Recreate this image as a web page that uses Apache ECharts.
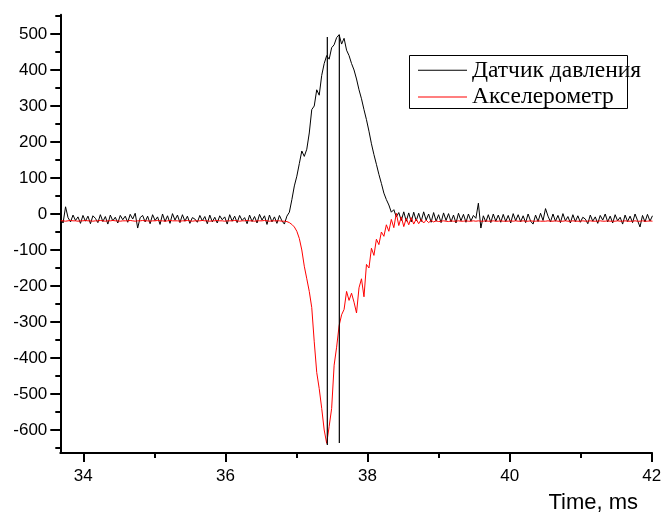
<!DOCTYPE html>
<html><head><meta charset="utf-8">
<script src="https://cdn.jsdelivr.net/npm/echarts@6/dist/echarts.min.js"></script>
<style>html,body{margin:0;padding:0;background:#fff}#c{width:665px;height:513px}</style>
</head><body><div id="c"></div>
<script>
// Sampling of the recorded signals (ms)
const sampleStart = 33.68;
const sampleStep = 0.035;

// Pressure sensor (black)
const pressure = [
 -12, -25, 20, -10, -22, -3, -18, -8, -26, -4,
 -20, -6, -27, -5, -12, -24, -2, -21, -7, -28,
 -3, -19, -9, -25, -4, -16, -6, -23, -1, -14,
 2, -39, -10, -4, -22, -6, -27, -2, -18, -8,
 -29, 0, -21, -5, -26, 1, -17, -3, -24, -2,
 -20, -6, -26, -10, -14, -23, -4, -19, -7, -27,
 -3, -22, -9, -25, -5, -16, -8, -28, -2, -20,
 -6, -24, -4, -18, -10, -27, -3, -21, -7, -25,
 -1, -17, -5, -29, -3, -22, -8, -26, -4, -19,
 -28, -6,
 5, 40, 78, 105, 140, 175, 160, 180, 225, 290,
 300, 345, 330, 385, 418, 440, 430, 462, 470, 490,
 498, 472, 488, 455, 440, 418, 400, 375, 345, 320,
 290, 262, 230, 195, 165, 138, 110, 85, 58, 40,
 25, 5, 12, -8,
 4, -18, 6, -20, 3, -22, 5, -19, 2, -21,
 6, -17, 0, -23, 4, -20, -2, -24, 3, -18,
 1, -22, -3, -25, 2, -19, -1, -23, 0, -20,
 -4, -12, 30, -39, -5, -22, -2, -24, 0, -20,
 -3, -23, -1, -21, -4, -25, 1, -19, -2, -22,
 -5, -24, 0, -20, -28, -3, -21, 2, -18, 15,
 -6, -22, 0, -20, -4, -24, 1, -19, -7, -25,
 -2, -21, -5, -23, -9, -14, -27, -3, -20, -8,
 -26, -4, -17, 0, -22, -6, -25, -2, -19, -9,
 -28, -3, -21, -6, -24, 0, -18, -36, -4, -22,
 -1, -20, -5
];

// Accelerometer (red)
const accel = [
 -19, -19, -20, -19, -18, -19, -19, -20, -19, -19,
 -18, -19, -19, -20, -19, -19, -18, -19, -20, -19,
 -19, -18, -19, -19, -20, -19, -19, -19, -18, -19,
 -20, -19, -19, -18, -19, -19, -20, -19, -19, -18,
 -19, -19, -20, -19, -18, -19, -19, -19, -20, -19,
 -19, -18, -19, -20, -19, -19, -19, -18, -19, -19,
 -20, -19, -19, -18, -19, -19, -20, -19, -19, -19,
 -18, -19, -20, -19, -19, -18, -19, -19, -20, -19,
 -19, -19, -18, -19, -20, -19, -19, -19, -19, -20,
 -20, -21, -24, -29, -36, -48, -68, -100, -145, -180,
 -215, -260, -355, -440, -485, -540, -600, -637, -590, -540,
 -420, -370, -310, -280, -265, -215, -240, -220, -245, -275,
 -205, -180, -230, -140, -150, -95, -115, -70, -85, -50,
 -62, -30, -48, -15, -38, 2, -32, -8, -35, -12,
 -30, -10, -28, -14, -27, -15, -25, -17, -24, -18,
 -22, -19,
 -21, -20, -19, -20, -21, -19, -20, -20, -19, -20,
 -20, -19, -20, -20, -19, -20, -19, -20, -20, -19,
 -20, -20, -19, -20, -20, -19, -20, -20, -20, -19,
 -20, -19, -20, -20, -19, -20, -20, -19, -20, -20,
 -19, -20, -20, -20, -19, -20, -20, -19, -20, -20,
 -20, -19, -20, -20, -19, -20, -20, -20, -19, -20,
 -20, -19, -20, -20, -20, -19, -20, -20, -19, -20,
 -20, -20, -19, -20, -20, -19, -20, -20, -20, -19,
 -20, -20, -19, -20, -20, -19, -20
];

// Vertical marker lines (time, top value, bottom value)
const markerTimes = [37.434, 37.603];
const markerTop = [492, 498];
const markerBottom = [-642, -636];

const seriesNames = ['Датчик давления', 'Акселерометр'];
const xAxisName = 'Time, ms';
const xMajorTicks = [34, 36, 38, 40, 42];
const xMinorTicks = [35, 37, 39, 41];
const yMajorTicks = [-600, -500, -400, -300, -200, -100, 0, 100, 200, 300, 400, 500];
const yMinorTicks = [-650, -550, -450, -350, -250, -150, -50, 50, 150, 250, 350, 450, 550];
const xRange = [33.676, 42.005];
const yRange = [-663.9, 553.6];

const toPairs = vals => vals.map((v, i) => [sampleStart + i * sampleStep, v]);

const black = '#000';
const axisFont = {color: black, fontFamily: 'Liberation Sans', fontSize: 17};

const chart = echarts.init(document.getElementById('c'), null, {renderer: 'canvas'});
chart.setOption({
  animation: false,
  backgroundColor: '#fff',
  grid: {left: 60.3, right: 12.9, top: 14.7, bottom: 60, containLabel: false, outerBoundsMode: 'none'},
  legend: {
    data: seriesNames,
    orient: 'vertical',
    left: 418, top: 57,
    padding: 0,
    icon: 'rect',
    itemWidth: 49, itemHeight: 1, itemGap: 0,
    textStyle: {fontFamily: 'Liberation Serif', fontSize: 23.5, color: black, lineHeight: 22.7, padding: [4, 0, 0, 0]}
  },
  graphic: [{
    type: 'rect', z: 0,
    shape: {x: 409.5, y: 55.5, width: 218, height: 53},
    style: {fill: '#fff', stroke: black, lineWidth: 1}
  }],
  xAxis: [{
    type: 'value', min: xRange[0], max: xRange[1], position: 'bottom',
    axisLine: {onZero: false, lineStyle: {color: black, width: 2}},
    axisTick: {customValues: xMajorTicks, length: 9, lineStyle: {color: black, width: 2}},
    axisLabel: Object.assign({customValues: xMajorTicks, margin: 15}, axisFont),
    splitLine: {show: false},
    name: xAxisName, nameLocation: 'end', nameGap: -14,
    nameTextStyle: {color: black, fontFamily: 'Liberation Sans', fontSize: 22, align: 'right', verticalAlign: 'top', padding: [39, 0, 0, 0]}
  }, {
    type: 'value', min: xRange[0], max: xRange[1], position: 'bottom',
    axisLine: {show: false, onZero: false},
    axisTick: {customValues: xMinorTicks, length: 5, lineStyle: {color: black, width: 2}},
    axisLabel: {show: false},
    splitLine: {show: false}
  }],
  yAxis: [{
    type: 'value', min: yRange[0], max: yRange[1], position: 'left',
    axisLine: {onZero: false, lineStyle: {color: black, width: 2}},
    axisTick: {customValues: yMajorTicks, length: 10, lineStyle: {color: black, width: 2}},
    axisLabel: Object.assign({customValues: yMajorTicks, margin: 13}, axisFont),
    splitLine: {show: false}
  }, {
    type: 'value', min: yRange[0], max: yRange[1], position: 'left',
    axisLine: {show: false, onZero: false},
    axisTick: {customValues: yMinorTicks, length: 5, lineStyle: {color: black, width: 2}},
    axisLabel: {show: false},
    splitLine: {show: false}
  }],
  series: [
    {name: seriesNames[0], type: 'line', data: toPairs(pressure), symbol: 'none', lineStyle: {color: black, width: 1}, itemStyle: {color: black}, z: 2},
    {name: seriesNames[1], type: 'line', data: toPairs(accel), symbol: 'none', lineStyle: {color: '#ff0000', width: 1}, itemStyle: {color: '#ff0000'}, z: 3}
  ].concat(markerTimes.map((t, k) => ({
    type: 'line', data: [[t, markerTop[k]], [t, markerBottom[k]]], symbol: 'none', silent: true,
    lineStyle: {color: black, width: 1.2}, z: 4
  })))
});
</script>
</body></html>
